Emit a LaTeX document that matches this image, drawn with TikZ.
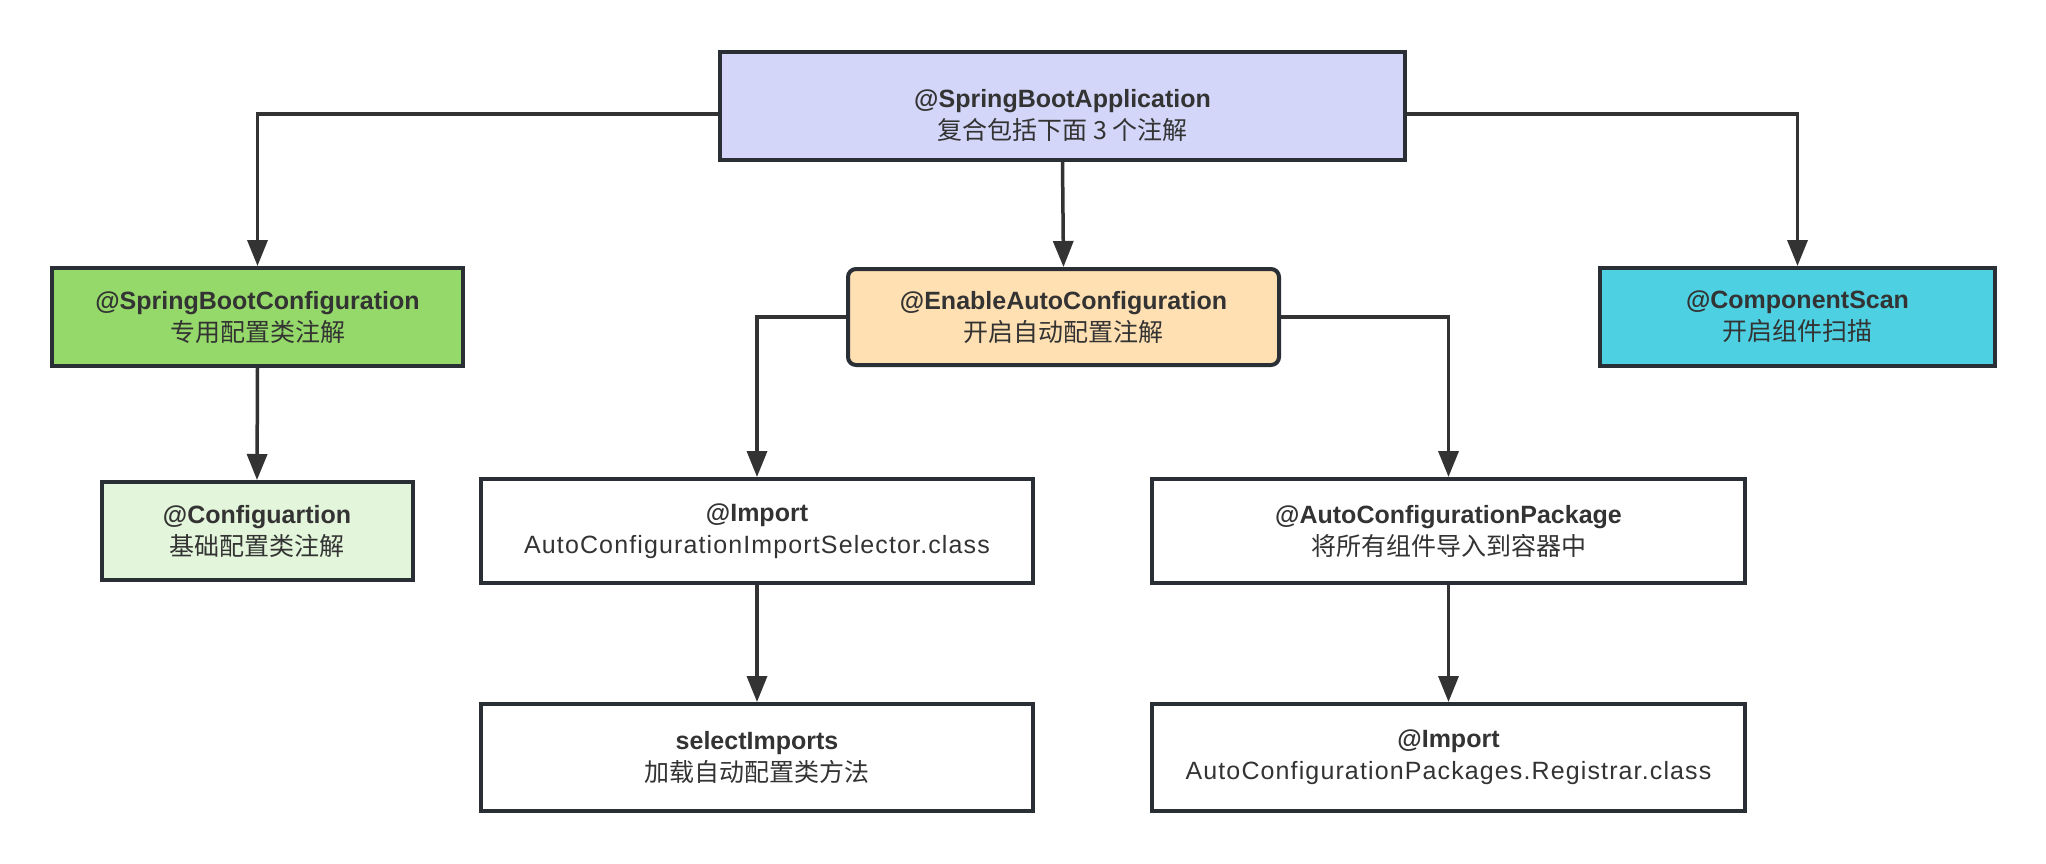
\documentclass[tikz,border=0pt]{standalone}
\usepackage{fontspec}
\setmainfont{Liberation Sans}
\newfontfamily\cjk{Noto Sans CJK SC}
\newfontfamily\widefont[LetterSpace=4.5]{Liberation Sans}
\usetikzlibrary{arrows.meta}
\definecolor{edge}{HTML}{2A2F35}
\definecolor{ink}{HTML}{333333}
\definecolor{appfill}{HTML}{D3D6F8}
\definecolor{bootfill}{HTML}{95D96A}
\definecolor{conffill}{HTML}{E3F5DA}
\definecolor{autofill}{HTML}{FFE0B2}
\definecolor{scanfill}{HTML}{4DD0E2}
\tikzset{
    box/.style={draw=edge, line width=2pt, text=ink, align=center, inner sep=0pt,
        font=\fontsize{12.5pt}{16pt}\selectfont},
    boxtext/.style={text=ink, align=center, inner sep=0pt, font=\fontsize{12.5pt}{16pt}\selectfont},
    link/.style={draw=ink, line width=1.75pt, -{Triangle[length=13pt,width=10pt]}},
}

\begin{document}
\begin{tikzpicture}[x=0.5pt, y=-0.5pt]
                      \fill[white](0,0) rectangle (2046,863);
                      \useasboundingbox (0,0) rectangle (2046,863);

                      \node[box, fill=appfill, minimum width=342.5pt, minimum height=54pt,
                          label={[boxtext, yshift=-4.5pt]center:{\textbf{@SpringBootApplication}\\{\cjk 复合包括下面 3 个注解}}}] (app) at (1062.5,106) {};
                      \node[box, fill=bootfill, minimum width=205.5pt, minimum height=49pt] (boot) at (257.5,317)
                          {\textbf{@SpringBootConfiguration}\\{\cjk 专用配置类注解}};
                      \node[box, fill=autofill, rounded corners=4pt, minimum width=215.5pt, minimum height=48pt] (auto) at (1063.5,317)
                          {\textbf{@EnableAutoConfiguration}\\{\cjk 开启自动配置注解}};
                      \node[box, fill=scanfill, minimum width=197.5pt, minimum height=49pt] (scan) at (1797.5,317)
                          {\textbf{@ComponentScan}\\{\cjk 开启组件扫描}};
                      \node[box, fill=conffill, minimum width=155.5pt, minimum height=49pt] (conf) at (257,531)
                          {\textbf{@Configuartion}\\{\cjk 基础配置类注解}};
                      \node[box, fill=white, minimum width=276pt, minimum height=52pt] (imp) at (757,531)
                          {\textbf{@Import}\\{\widefont AutoConfigurationImportSelector.class}};
                      \node[box, fill=white, minimum width=296.5pt, minimum height=52pt] (pkg) at (1448.5,531)
                          {\textbf{@AutoConfigurationPackage}\\{\cjk 将所有组件导入到容器中}};
                      \node[box, fill=white, minimum width=276pt, minimum height=53.5pt] (sel) at (757,757.5)
                          {\textbf{selectImports}\\{\cjk 加载自动配置类方法}};
                      \node[box, fill=white, minimum width=296.5pt, minimum height=53.5pt] (reg) at (1448.5,757.5)
                          {\textbf{@Import}\\{\widefont AutoConfigurationPackages.Registrar.class}};

                      \draw[link]([yshift=-4pt]app.west) -| (boot.north);
                      \draw[link](app.south) -- (auto.north);
                      \draw[link]([yshift=-4pt]app.east) -| (scan.north);
                      \draw[link](boot.south) -- (conf.north);
                      \draw[link](auto.west) -| (imp.north);
                      \draw[link](auto.east) -| (pkg.north);
                      \draw[link](imp.south) -- (sel.north);
                      \draw[link](pkg.south) -- (reg.north);
\end{tikzpicture}
\end{document}
